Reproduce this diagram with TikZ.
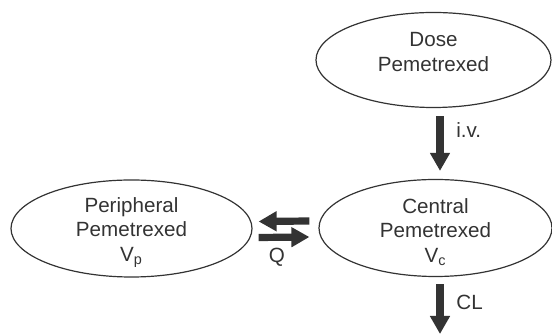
\documentclass[tikz,border=0pt]{standalone}
\usepackage{fontspec}
\setmainfont{Liberation Sans}
\usetikzlibrary{shapes.geometric,arrows.meta}
\definecolor{ink}{HTML}{333333}
\tikzset{
  comp/.style={ellipse, draw=ink, line width=0.6pt, inner sep=0pt},
  txt/.style={text=ink, align=center, inner sep=0pt, font=\fontsize{10.3}{12.2}\selectfont},
  bigarrow/.style={draw=ink, line width=3.6pt, -{Triangle[length=9pt,width=9.5pt]}},
  lab/.style={text=ink, font=\fontsize{10.3}{12}\selectfont, inner sep=1pt}
}
\begin{document}
\begin{tikzpicture}[x=0.5pt,y=-0.5pt]
\useasboundingbox (0,0) rectangle (552,335);
\node[comp, minimum width=117.5pt, minimum height=47.5pt] (dose) at (433.5,60) {};
\node[comp, minimum width=116.5pt, minimum height=48.5pt] (central) at (435.5,228) {};
\node[comp, minimum width=120.5pt, minimum height=48.5pt] (peri) at (131.5,228.5) {};
\node[txt] (dosetxt) at ([yshift=4pt]dose.center) {Dose\\Pemetrexed};
\node[txt] (centraltxt) at ([yshift=-2pt]central.center) {Central\\Pemetrexed\\V\textsubscript{c}};
\node[txt] (peritxt) at ([yshift=-2pt]peri.center) {Peripheral\\Pemetrexed\\V\textsubscript{p}};
\coordinate (out) at (440,334);
\draw[bigarrow] ([xshift=3.25pt,yshift=-4pt]dose.south) -- ([xshift=2.25pt,yshift=4pt]central.north);
\draw[bigarrow] ([xshift=2.25pt,yshift=-3.5pt]central.south) -- (out);
\draw[bigarrow] ([xshift=-4.5pt,yshift=3.5pt]central.west) -- ([xshift=3pt,yshift=3.5pt]peri.east);
\draw[bigarrow] ([xshift=3pt,yshift=-4.5pt]peri.east) -- ([xshift=-4.5pt,yshift=-4.5pt]central.west);
\node[lab, anchor=west] (iv) at (454,130) {i.v.};
\node[lab, anchor=west] (cl) at (454,302) {CL};
\node[lab] (q) at (277,257) {Q};
\end{tikzpicture}
\end{document}
